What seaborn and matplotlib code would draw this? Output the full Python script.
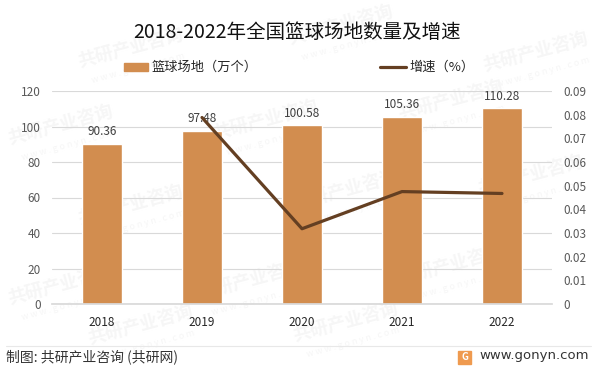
import matplotlib
matplotlib.use("Agg")
import matplotlib.pyplot as plt
import numpy as np
import pandas as pd
import seaborn as sns

years = ["2018", "2019", "2020", "2021", "2022"]
courts = [90.36, 97.48, 100.58, 105.36, 110.28]
growth = [np.nan, 0.0788, 0.0318, 0.0475, 0.0467]
left_ticks = [0, 20, 40, 60, 80, 100, 120]
right_ticks = [0, 0.01, 0.02, 0.03, 0.04, 0.05, 0.06, 0.07, 0.08, 0.09]
right_labels = ["0", "0.01", "0.02", "0.03", "0.04", "0.05", "0.06", "0.07", "0.08", "0.09"]

# faint watermark positions, in pixels of the 597x369 image
wm_big = [(130, 48), (340, 25), (535, 52), (60, 125), (265, 120), (450, 100),
          (130, 205), (345, 190), (530, 175), (60, 285), (250, 280), (450, 265), (345, 322), (140, 325)]

sns.set_theme(style="white")
plt.rcParams["font.family"] = ["Noto Sans CJK SC", "DejaVu Sans"]

W, H = 597, 369
df = pd.DataFrame({"year": years, "courts": courts, "growth": growth})

fig = plt.figure(figsize=(W / 100, H / 100), dpi=100)
ax = fig.add_axes([52 / W, 1 - 304 / H, 500 / W, 213 / H])
ax.set_zorder(2)
ax.patch.set_alpha(0)

for x, y in wm_big:
    fig.text(x / W, 1 - y / H, "共研产业咨询", fontsize=13, fontweight="bold", color="#f6f6f6",
             rotation=15, ha="center", va="center", zorder=0)
    fig.text((x + 8) / W, 1 - (y + 20) / H, "w w w . g o n y n . c o m", fontsize=6.5, color="#f6f6f6",
             rotation=15, ha="center", va="center", zorder=0)

sns.barplot(data=df, x="year", y="courts", color="#d28d4f", saturation=1, width=0.4, ax=ax, zorder=2)
ax.set_xlim(-0.5, 4.5)
ax.set_ylim(0, 120)
ax.set_yticks(left_ticks)
ax.set_xlabel("")
ax.set_ylabel("")
ax.grid(axis="y", color="#d9d9d9", lw=0.8)
ax.set_axisbelow(True)
ax.tick_params(axis="y", labelsize=8.5, labelcolor="#595959", length=0, pad=8)
ax.tick_params(axis="x", labelsize=8.5, labelcolor="#262626", length=0, pad=9)
for s in ["top", "left", "right"]:
    ax.spines[s].set_visible(False)
ax.spines["bottom"].set_color("#d9d9d9")
for i, v in enumerate(courts):
    ax.annotate(f"{v:.2f}", (i, v), xytext=(0, 4), textcoords="offset points", ha="center", va="bottom",
                fontsize=8.5, color="#404040", zorder=3)

ax2 = ax.twinx()
ax2.set_zorder(3)
sns.lineplot(data=df, x="year", y="growth", color="#643f22", lw=2.3, ax=ax2, zorder=4)
ax2.set_ylim(0, 0.09)
ax2.set_yticks(right_ticks)
ax2.set_yticklabels(right_labels)
ax2.set_ylabel("")
ax2.grid(False)
ax2.tick_params(axis="y", labelsize=8.5, labelcolor="#595959", length=0, pad=8)
for s in ax2.spines.values():
    s.set_visible(False)

fig.text(297 / W, 1 - 32 / H, "2018-2022年全国篮球场地数量及增速", fontsize=14, color="#111111", ha="center", va="center")

# legend
leg_ax = fig.add_axes([0, 0, 1, 1])
leg_ax.set_zorder(1)
leg_ax.set_xlim(0, W)
leg_ax.set_ylim(H, 0)
leg_ax.axis("off")
leg_ax.patch.set_alpha(0)
leg_ax.add_patch(plt.Rectangle((124, 63), 24, 8, color="#d28d4f"))
leg_ax.text(152, 67, "篮球场地（万个）", fontsize=9.5, color="#262626", va="center")
leg_ax.plot([380, 406], [67, 67], color="#643f22", lw=2.3)
leg_ax.text(409, 67, "增速（%）", fontsize=9.5, color="#262626", va="center")

# footer
leg_ax.plot([6, 591], [346, 346], color="#e8e8e8", lw=0.8)
leg_ax.text(6, 357, "制图: 共研产业咨询 (共研网)", fontsize=10, color="#333333", va="center")
leg_ax.add_patch(plt.Rectangle((458, 351), 13, 13, color="#ef9a4f"))
leg_ax.text(464.5, 357, "G", fontsize=7, fontweight="bold", color="white", ha="center", va="center")
leg_ax.text(479, 356, "www.gonyn.com", fontsize=9.5, color="#333333", va="center", family="DejaVu Sans")

fig.savefig("out.png", dpi=100)
